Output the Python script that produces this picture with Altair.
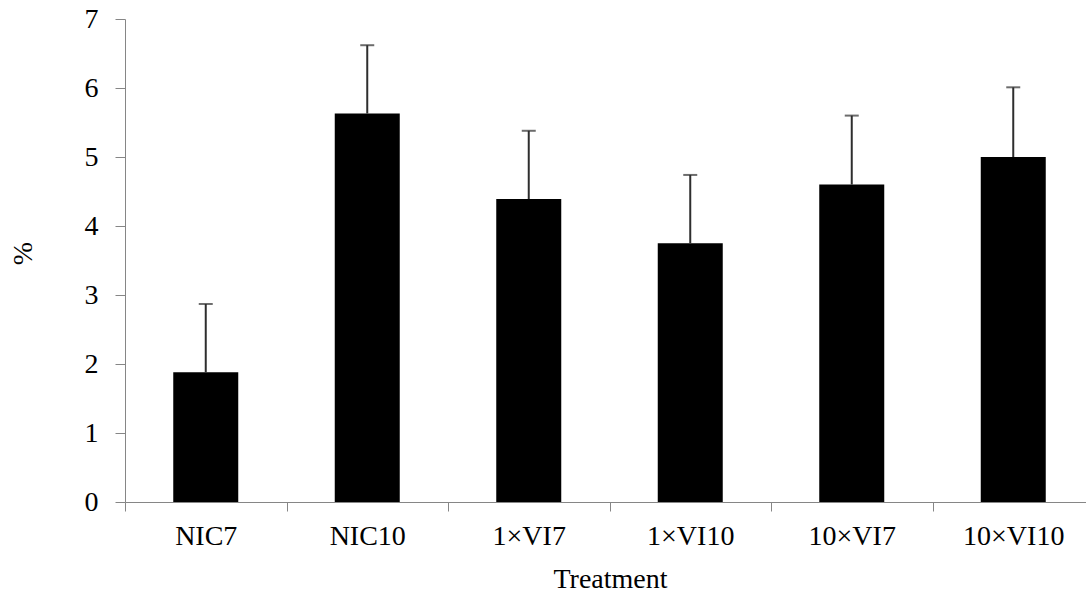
import altair as alt
import pandas as pd

# Treatment groups and measured percentages with their error (upper bar only)
treatments = ["NIC7", "NIC10", "1×VI7", "1×VI10", "10×VI7", "10×VI10"]
means = [1.88, 5.63, 4.39, 3.75, 4.60, 5.00]
errors = [0.99, 0.99, 0.99, 0.99, 1.00, 1.01]

df = pd.DataFrame({"treatment": treatments, "mean": means, "err": errors})
df["upper"] = df["mean"] + df["err"]

FONT = "Liberation Serif"

x_enc = alt.X(
    "treatment:N",
    sort=treatments,
    scale=alt.Scale(paddingInner=0, paddingOuter=0, range=[0, 969]),
    axis=alt.Axis(
        title="Treatment",
        labelAngle=0,
        labelFont=FONT,
        labelFontSize=28,
        labelColor="black",
        labelPadding=11,
        titleFont=FONT,
        titleFontSize=28,
        titleFontWeight="normal",
        titleColor="black",
        titleX=485,
        titleY=85,
        titleBaseline="alphabetic",
        titleAnchor="start",
        titleAlign="center",
        domainColor="#868686",
        domainWidth=1,
        tickColor="#868686",
        tickSize=9,
        tickBand="extent",
        grid=False,
    ),
)

y_scale = alt.Scale(domain=[0, 7], nice=False)

bars = alt.Chart(df).mark_bar(color="black", size=65).encode(
    x=x_enc,
    y=alt.Y(
        "mean:Q",
        scale=y_scale,
        axis=alt.Axis(
            title="%",
            values=[0, 1, 2, 3, 4, 5, 6, 7],
            format="d",
            labelFont=FONT,
            labelFontSize=28,
            labelColor="black",
            labelPadding=17,
            titleFont=FONT,
            titleFontSize=28,
            titleFontWeight="normal",
            titleColor="black",
            titleX=-102,
            titleY=234,
            titleAngle=-90,
            titleAlign="center",
            titleBaseline="middle",
            domainColor="#868686",
            domainWidth=1,
            tickColor="#868686",
            tickSize=10,
            grid=False,
        ),
    ),
)

whisker = alt.Chart(df).mark_rule(color="#2e2e2e", strokeWidth=2).encode(
    x=alt.X("treatment:N", sort=treatments),
    y=alt.Y("mean:Q", scale=y_scale),
    y2="upper:Q",
)

cap = alt.Chart(df).mark_tick(color="#2e2e2e", thickness=2, size=14, orient="horizontal").encode(
    x=alt.X("treatment:N", sort=treatments),
    y=alt.Y("upper:Q", scale=y_scale),
)

chart = (
    alt.layer(bars, whisker, cap)
    .properties(
        width=961,
        height=483,
        autosize=alt.AutoSizeParams(type="none"),
        padding={"left": 125, "top": 19, "right": 0, "bottom": 93},
        background="white",
    )
    .configure_view(stroke=None)
)

chart.save("out.html", embed_options={"renderer": "svg", "actions": False})
